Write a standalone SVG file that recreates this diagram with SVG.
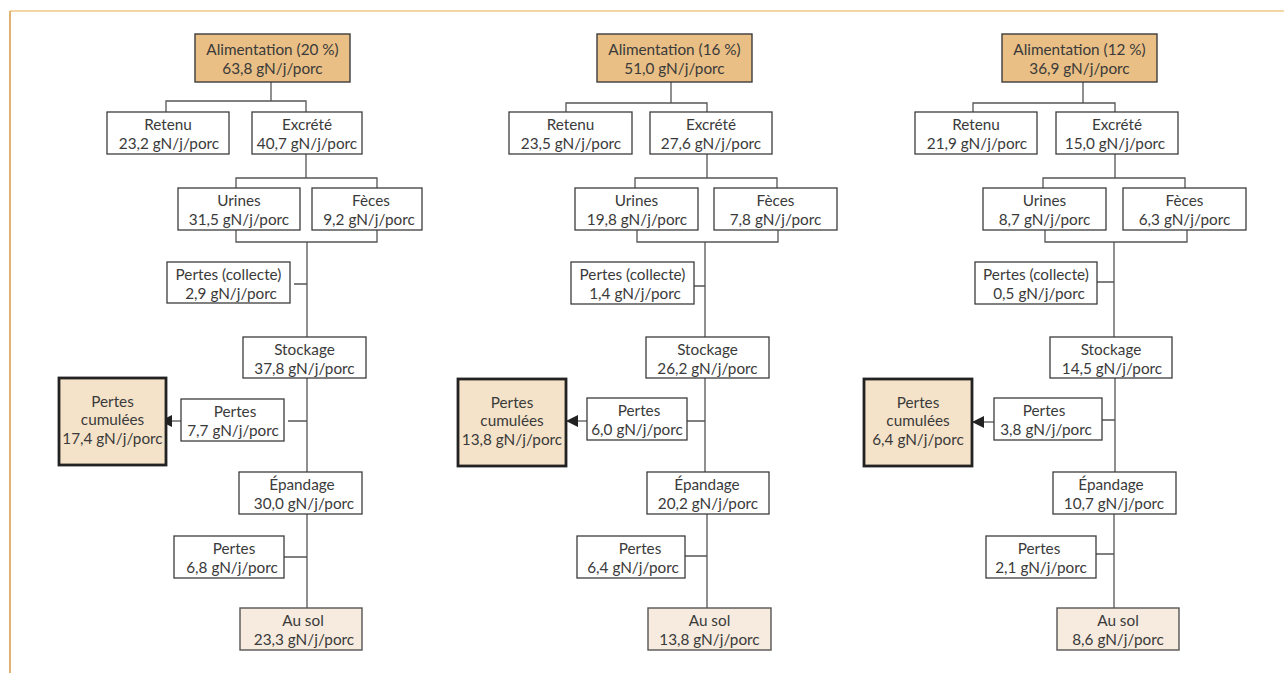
<svg xmlns="http://www.w3.org/2000/svg" width="1284" height="673" viewBox="0 0 1284 673">
<style>
text{font-family:Lato,"Open Sans","Liberation Sans",sans-serif;font-size:15.3px;fill:#3a3a3a;text-anchor:middle}
.b{fill:#fff;stroke:#3c3c3c;stroke-width:1.3}
.a{fill:#E9BF85;stroke:#3c3c3c;stroke-width:1.4}
.c{fill:#F5E3C9;stroke:#222;stroke-width:2.8}
.s{fill:#F6EBDE;stroke:#555;stroke-width:1.4}
.l{fill:none;stroke:#555;stroke-width:1.3}
</style>
<defs>
<marker id="ah" markerUnits="userSpaceOnUse" markerWidth="14" markerHeight="14" refX="12" refY="6" orient="auto">
<path d="M0,0 L12,6 L0,12 Z" fill="#222"/>
</marker>
</defs>
<g id="frame">
<line x1="10" y1="11" x2="1284" y2="11" stroke="#EFC886" stroke-width="1.6"/>
<line x1="10" y1="11" x2="10" y2="673" stroke="#D9A050" stroke-width="1.6"/>
</g>
<g id="connectors">
<path class="l" d="M271,82V101M166,112V101H306V112M306,154V178M236,188V178H377V188M236,230V242H377V230M307,242V337M294,284H307M307,378V472M288,421H307M307,514V608M284,557H307"/>
<path class="l" d="M181,421H160" marker-end="url(#ah)"/>
<path class="l" d="M671,82V103M566,112V103H707V112M707,154V178M635,188V178H777V188M637,230V242H778V230M705,242V337M694,286H705M705,378V472M687,421H705M707,514V608M685,556H707"/>
<path class="l" d="M587,421H566" marker-end="url(#ah)"/>
<path class="l" d="M1083,82V103M973,112V103H1115V112M1115,154V178M1043,188V178H1185V188M1045,230V242H1187V230M1114,242V337M1097,282H1114M1115,378V472M1102,420H1115M1114,514V608M1096,554H1114"/>
<path class="l" d="M994,422H972" marker-end="url(#ah)"/>
</g>
<!-- Column 1 -->
<g id="c1-alim"><rect class="a" x="195" y="34" width="155" height="48"/><text x="272.5" y="55">Alimentation (20 %)</text><text x="272.5" y="74">63,8 gN/j/porc</text></g>
<g id="c1-retenu"><rect class="b" x="107" y="112" width="122" height="42"/><text x="168" y="130">Retenu</text><text x="169" y="149">23,2 gN/j/porc</text></g>
<g id="c1-excrete"><rect class="b" x="252" y="112" width="110" height="42"/><text x="307" y="130">Excrété</text><text x="307" y="149">40,7 gN/j/porc</text></g>
<g id="c1-urines"><rect class="b" x="178" y="188" width="122" height="42"/><text x="239" y="206">Urines</text><text x="239" y="225">31,5 gN/j/porc</text></g>
<g id="c1-feces"><rect class="b" x="312" y="188" width="110" height="42"/><text x="371" y="206">Fèces</text><text x="369" y="225">9,2 gN/j/porc</text></g>
<g id="c1-collecte"><rect class="b" x="167" y="262" width="123" height="41"/><text x="228.5" y="280">Pertes (collecte)</text><text x="231" y="299">2,9 gN/j/porc</text></g>
<g id="c1-stockage"><rect class="b" x="243" y="337" width="123" height="41"/><text x="304.5" y="355">Stockage</text><text x="304.5" y="374">37,8 gN/j/porc</text></g>
<g id="c1-cumul"><rect class="c" x="59" y="378" width="107" height="87"/><text x="112.5" y="406.5">Pertes</text><text x="112.5" y="425">cumulées</text><text x="112.5" y="444">17,4 gN/j/porc</text></g>
<g id="c1-pertes1"><rect class="b" x="181" y="399" width="103" height="42"/><text x="235" y="417">Pertes</text><text x="233" y="436">7,7 gN/j/porc</text></g>
<g id="c1-epandage"><rect class="b" x="239" y="472" width="123" height="42"/><text x="302" y="490">Épandage</text><text x="304" y="509">30,0 gN/j/porc</text></g>
<g id="c1-pertes2"><rect class="b" x="174" y="536" width="110" height="42"/><text x="234" y="554">Pertes</text><text x="232" y="573">6,8 gN/j/porc</text></g>
<g id="c1-ausol"><rect class="s" x="240" y="608" width="122" height="42"/><text x="303" y="626">Au sol</text><text x="304" y="645">23,3 gN/j/porc</text></g>
<!-- Column 2 -->
<g id="c2-alim"><rect class="a" x="597" y="34" width="155" height="48"/><text x="674.5" y="55">Alimentation (16 %)</text><text x="674.5" y="74">51,0 gN/j/porc</text></g>
<g id="c2-retenu"><rect class="b" x="509" y="112" width="123" height="42"/><text x="570.5" y="130">Retenu</text><text x="571" y="149">23,5 gN/j/porc</text></g>
<g id="c2-excrete"><rect class="b" x="650" y="112" width="122" height="42"/><text x="711" y="130">Excrété</text><text x="711" y="149">27,6 gN/j/porc</text></g>
<g id="c2-urines"><rect class="b" x="575" y="188" width="123" height="42"/><text x="636.5" y="206">Urines</text><text x="637" y="225">19,8 gN/j/porc</text></g>
<g id="c2-feces"><rect class="b" x="714" y="188" width="123" height="42"/><text x="775.5" y="206">Fèces</text><text x="775.5" y="225">7,8 gN/j/porc</text></g>
<g id="c2-collecte"><rect class="b" x="571" y="262" width="123" height="42"/><text x="632.5" y="280">Pertes (collecte)</text><text x="635" y="299">1,4 gN/j/porc</text></g>
<g id="c2-stockage"><rect class="b" x="646" y="337" width="123" height="41"/><text x="707.5" y="355">Stockage</text><text x="707.5" y="374">26,2 gN/j/porc</text></g>
<g id="c2-cumul"><rect class="c" x="458" y="379" width="108" height="87"/><text x="512" y="407.5">Pertes</text><text x="512" y="426">cumulées</text><text x="512" y="445">13,8 gN/j/porc</text></g>
<g id="c2-pertes1"><rect class="b" x="587" y="398" width="100" height="42"/><text x="639" y="416">Pertes</text><text x="637" y="435">6,0 gN/j/porc</text></g>
<g id="c2-epandage"><rect class="b" x="647" y="472" width="122" height="42"/><text x="707" y="490">Épandage</text><text x="708" y="509">20,2 gN/j/porc</text></g>
<g id="c2-pertes2"><rect class="b" x="577" y="536" width="108" height="42"/><text x="640" y="554">Pertes</text><text x="633" y="573">6,4 gN/j/porc</text></g>
<g id="c2-ausol"><rect class="s" x="648" y="608" width="123" height="42"/><text x="709.5" y="626">Au sol</text><text x="709.5" y="645">13,8 gN/j/porc</text></g>
<!-- Column 3 -->
<g id="c3-alim"><rect class="a" x="1002" y="34" width="155" height="48"/><text x="1079.5" y="55">Alimentation (12 %)</text><text x="1079.5" y="74">36,9 gN/j/porc</text></g>
<g id="c3-retenu"><rect class="b" x="915" y="112" width="122" height="42"/><text x="976" y="130">Retenu</text><text x="977" y="149">21,9 gN/j/porc</text></g>
<g id="c3-excrete"><rect class="b" x="1056" y="112" width="122" height="42"/><text x="1117" y="130">Excrété</text><text x="1115" y="149">15,0 gN/j/porc</text></g>
<g id="c3-urines"><rect class="b" x="983" y="188" width="123" height="42"/><text x="1044.5" y="206">Urines</text><text x="1044.5" y="225">8,7 gN/j/porc</text></g>
<g id="c3-feces"><rect class="b" x="1123" y="188" width="123" height="42"/><text x="1184.5" y="206">Fèces</text><text x="1184.5" y="225">6,3 gN/j/porc</text></g>
<g id="c3-collecte"><rect class="b" x="975" y="262" width="122" height="42"/><text x="1036" y="280">Pertes (collecte)</text><text x="1039" y="299">0,5 gN/j/porc</text></g>
<g id="c3-stockage"><rect class="b" x="1050" y="337" width="122" height="41"/><text x="1111" y="355">Stockage</text><text x="1112" y="374">14,5 gN/j/porc</text></g>
<g id="c3-cumul"><rect class="c" x="864" y="379" width="108" height="87"/><text x="918" y="407.5">Pertes</text><text x="918" y="426">cumulées</text><text x="918" y="445">6,4 gN/j/porc</text></g>
<g id="c3-pertes1"><rect class="b" x="994" y="398" width="108" height="42"/><text x="1044" y="416">Pertes</text><text x="1046" y="435">3,8 gN/j/porc</text></g>
<g id="c3-epandage"><rect class="b" x="1053" y="472" width="123" height="42"/><text x="1111" y="490">Épandage</text><text x="1114" y="509">10,7 gN/j/porc</text></g>
<g id="c3-pertes2"><rect class="b" x="986" y="536" width="110" height="42"/><text x="1039" y="554">Pertes</text><text x="1041" y="573">2,1 gN/j/porc</text></g>
<g id="c3-ausol"><rect class="s" x="1057" y="608" width="122" height="42"/><text x="1118" y="626">Au sol</text><text x="1118" y="645">8,6 gN/j/porc</text></g>
</svg>
